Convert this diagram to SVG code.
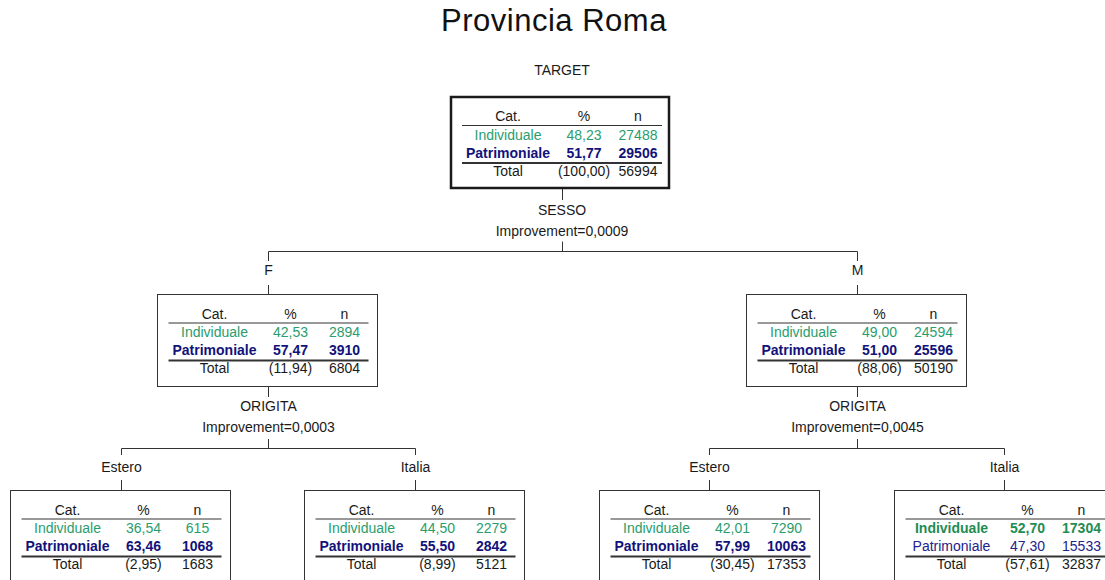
<svg xmlns="http://www.w3.org/2000/svg" width="1105" height="580" viewBox="0 0 1105 580">
<style>
text{font-family:"Liberation Sans",Arial,sans-serif;font-size:14px;fill:#1a1a1a;text-anchor:middle}
.title{font-size:31px;letter-spacing:0.5px;fill:#111}
.box{fill:#fff;stroke:#333;stroke-width:1}
.rootbox{fill:#fff;stroke:#1a1a1a;stroke-width:2.5}
.hl{stroke:#333;stroke-width:1}
.tl{stroke:#333;stroke-width:2}
.g{fill:#2a9d6e}
.gb{fill:#1f8c55;font-weight:bold}
.b{fill:#12127a;font-weight:bold}
.bn{fill:#22228a}
.conn{fill:none;stroke:#333;stroke-width:1}
</style>
<text class="title" x="554" y="31">Provincia Roma</text>
<text x="562" y="75">TARGET</text>

<g id="connectors">
<path class="conn" d="M562.5 188V200M562.5 241.5V251.5M268.5 251.5H857.5M268.5 251.5V261M857.5 251.5V261M268.5 285V294.5M857.5 285V294.5"/>
<path class="conn" d="M268.5 387V397M268.5 439V448.5M121.5 448.5H415.5M121.5 448.5V455M415.5 448.5V455M121.5 480V490.5M415.5 480V490.5"/>
<path class="conn" d="M857.5 387V397M857.5 439V448.5M709.5 448.5H1004.5M709.5 448.5V455M1004.5 448.5V455M709.5 480V490.5M1004.5 480V490.5"/>
<text x="562" y="215">SESSO</text>
<text x="562" y="235.5">Improvement=0,0009</text>
<text x="268.5" y="275">F</text>
<text x="857.5" y="275">M</text>
<text x="268.5" y="411">ORIGITA</text>
<text x="268.5" y="431.5">Improvement=0,0003</text>
<text x="121.5" y="471.5">Estero</text>
<text x="415.5" y="471.5">Italia</text>
<text x="857.5" y="411">ORIGITA</text>
<text x="857.5" y="431.5">Improvement=0,0045</text>
<text x="709.5" y="471.5">Estero</text>
<text x="1004.5" y="471.5">Italia</text>
</g>

<g id="node-root" transform="translate(451,97)">
<rect class="rootbox" x="0" y="0" width="218" height="91"/>
<text x="57" y="24">Cat.</text><text x="133" y="24">%</text><text x="187" y="24">n</text>
<line class="hl" x1="11" y1="28.5" x2="211" y2="28.5"/>
<text class="g" x="57" y="42.5">Individuale</text><text class="g" x="133" y="42.5">48,23</text><text class="g" x="187" y="42.5">27488</text>
<text class="b" x="57" y="60.5">Patrimoniale</text><text class="b" x="133" y="60.5">51,77</text><text class="b" x="187" y="60.5">29506</text>
<line class="tl" x1="11" y1="66" x2="211" y2="66"/>
<text x="57" y="78.5">Total</text><text x="133" y="78.5">(100,00)</text><text x="187" y="78.5">56994</text>
</g>

<g id="node-F" transform="translate(157.5,294.5)">
<rect class="box" x="0" y="0" width="220" height="92"/>
<text x="57" y="24">Cat.</text><text x="133" y="24">%</text><text x="187" y="24">n</text>
<line class="hl" x1="11" y1="28.5" x2="211" y2="28.5"/>
<text class="g" x="57" y="42.5">Individuale</text><text class="g" x="133" y="42.5">42,53</text><text class="g" x="187" y="42.5">2894</text>
<text class="b" x="57" y="60.5">Patrimoniale</text><text class="b" x="133" y="60.5">57,47</text><text class="b" x="187" y="60.5">3910</text>
<line class="tl" x1="11" y1="66" x2="211" y2="66"/>
<text x="57" y="78.5">Total</text><text x="133" y="78.5">(11,94)</text><text x="187" y="78.5">6804</text>
</g>

<g id="node-M" transform="translate(746.5,294.5)">
<rect class="box" x="0" y="0" width="220" height="92"/>
<text x="57" y="24">Cat.</text><text x="133" y="24">%</text><text x="187" y="24">n</text>
<line class="hl" x1="11" y1="28.5" x2="211" y2="28.5"/>
<text class="g" x="57" y="42.5">Individuale</text><text class="g" x="133" y="42.5">49,00</text><text class="g" x="187" y="42.5">24594</text>
<text class="b" x="57" y="60.5">Patrimoniale</text><text class="b" x="133" y="60.5">51,00</text><text class="b" x="187" y="60.5">25596</text>
<line class="tl" x1="11" y1="66" x2="211" y2="66"/>
<text x="57" y="78.5">Total</text><text x="133" y="78.5">(88,06)</text><text x="187" y="78.5">50190</text>
</g>

<g id="node-F-Estero" transform="translate(10.5,490.5)">
<rect class="box" x="0" y="0" width="220" height="92"/>
<text x="57" y="24">Cat.</text><text x="133" y="24">%</text><text x="187" y="24">n</text>
<line class="hl" x1="11" y1="28.5" x2="211" y2="28.5"/>
<text class="g" x="57" y="42.5">Individuale</text><text class="g" x="133" y="42.5">36,54</text><text class="g" x="187" y="42.5">615</text>
<text class="b" x="57" y="60.5">Patrimoniale</text><text class="b" x="133" y="60.5">63,46</text><text class="b" x="187" y="60.5">1068</text>
<line class="tl" x1="11" y1="66" x2="211" y2="66"/>
<text x="57" y="78.5">Total</text><text x="133" y="78.5">(2,95)</text><text x="187" y="78.5">1683</text>
</g>

<g id="node-F-Italia" transform="translate(304.5,490.5)">
<rect class="box" x="0" y="0" width="220" height="92"/>
<text x="57" y="24">Cat.</text><text x="133" y="24">%</text><text x="187" y="24">n</text>
<line class="hl" x1="11" y1="28.5" x2="211" y2="28.5"/>
<text class="g" x="57" y="42.5">Individuale</text><text class="g" x="133" y="42.5">44,50</text><text class="g" x="187" y="42.5">2279</text>
<text class="b" x="57" y="60.5">Patrimoniale</text><text class="b" x="133" y="60.5">55,50</text><text class="b" x="187" y="60.5">2842</text>
<line class="tl" x1="11" y1="66" x2="211" y2="66"/>
<text x="57" y="78.5">Total</text><text x="133" y="78.5">(8,99)</text><text x="187" y="78.5">5121</text>
</g>

<g id="node-M-Estero" transform="translate(599.5,490.5)">
<rect class="box" x="0" y="0" width="220" height="92"/>
<text x="57" y="24">Cat.</text><text x="133" y="24">%</text><text x="187" y="24">n</text>
<line class="hl" x1="11" y1="28.5" x2="211" y2="28.5"/>
<text class="g" x="57" y="42.5">Individuale</text><text class="g" x="133" y="42.5">42,01</text><text class="g" x="187" y="42.5">7290</text>
<text class="b" x="57" y="60.5">Patrimoniale</text><text class="b" x="133" y="60.5">57,99</text><text class="b" x="187" y="60.5">10063</text>
<line class="tl" x1="11" y1="66" x2="211" y2="66"/>
<text x="57" y="78.5">Total</text><text x="133" y="78.5">(30,45)</text><text x="187" y="78.5">17353</text>
</g>

<g id="node-M-Italia" transform="translate(894.5,490.5)">
<rect class="box" x="0" y="0" width="220" height="92"/>
<text x="57" y="24">Cat.</text><text x="133" y="24">%</text><text x="187" y="24">n</text>
<line class="hl" x1="11" y1="28.5" x2="211" y2="28.5"/>
<text class="gb" x="57" y="42.5">Individuale</text><text class="gb" x="133" y="42.5">52,70</text><text class="gb" x="187" y="42.5">17304</text>
<text class="bn" x="57" y="60.5">Patrimoniale</text><text class="bn" x="133" y="60.5">47,30</text><text class="bn" x="187" y="60.5">15533</text>
<line class="tl" x1="11" y1="66" x2="211" y2="66"/>
<text x="57" y="78.5">Total</text><text x="133" y="78.5">(57,61)</text><text x="187" y="78.5">32837</text>
</g>
</svg>
